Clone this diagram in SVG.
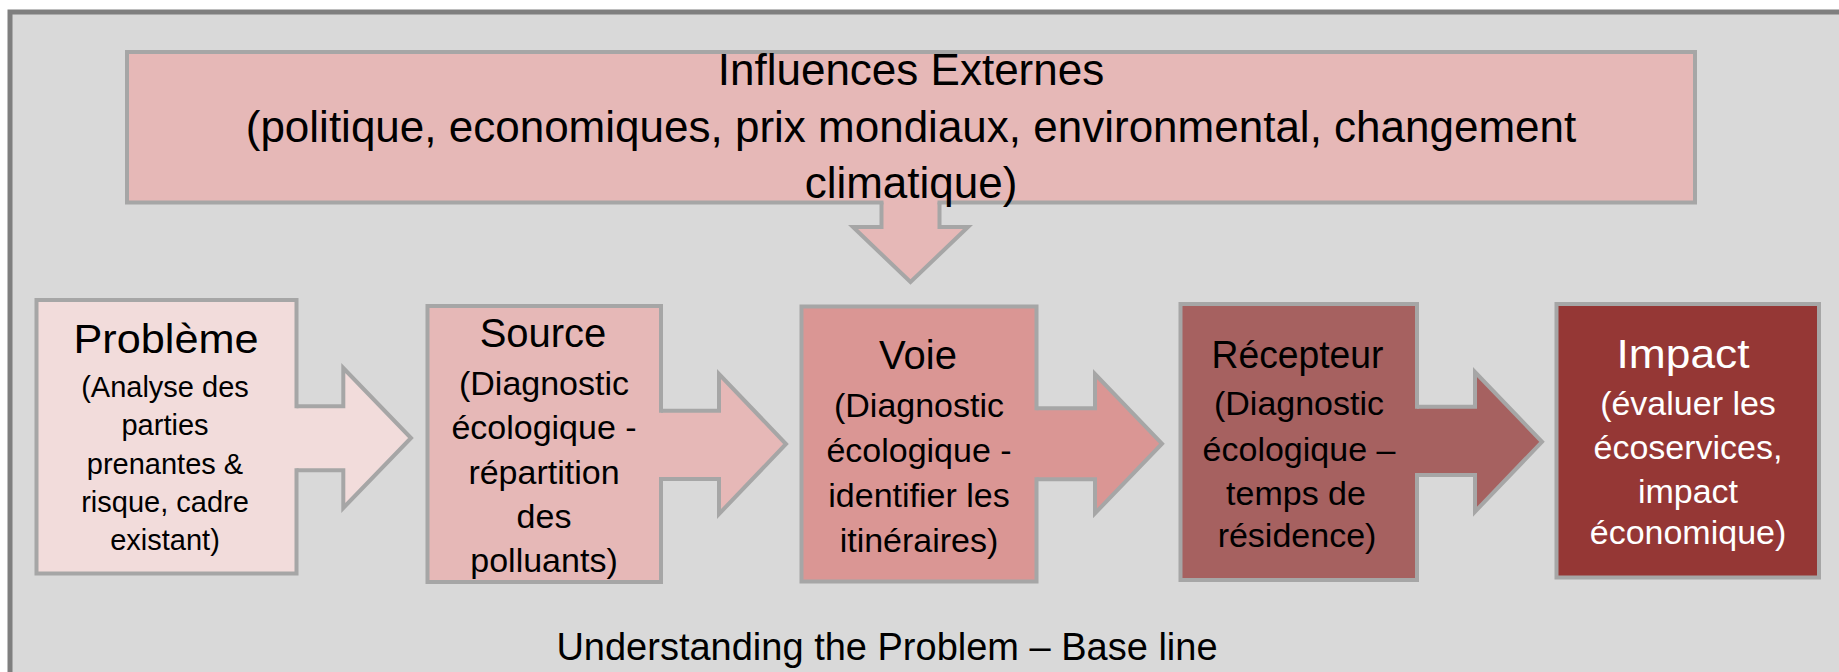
<svg xmlns="http://www.w3.org/2000/svg" width="1839" height="672" viewBox="0 0 1839 672">
<style>
text{font-family:"Liberation Sans",Arial,sans-serif;text-anchor:middle;fill:#000}
.bd{fill:none;stroke:#a6a6a6;stroke-width:4;stroke-linejoin:miter;stroke-linecap:square}
.ttl{font-size:40px}
.sub{font-size:34px}
.top{font-size:44px}
.wh{fill:#fff}
</style>
<rect x="0" y="0" width="1839" height="672" fill="#fff"/>
<rect x="10" y="12" width="1840" height="680" fill="#d9d9d9" stroke="#7f7f7f" stroke-width="5"/>

<g id="connectors">
  <g id="arrow-influences-voie">
    <polygon points="881.5,190 939.5,190 939.5,227 968,227 910.5,282 853,227 881.5,227" fill="#e6b8b7"/>
    <polyline class="bd" points="881.5,202.5 881.5,227 853,227 910.5,282 968,227 939.5,227 939.5,202.5"/>
  </g>
  <g id="arrow-probleme-source">
    <polygon points="286,406.3 343.3,406.3 343.3,368 411,438 343.3,508 343.3,470.3 286,470.3" fill="#f2dcdb"/>
    <polyline class="bd" points="296.5,406.3 343.3,406.3 343.3,368 411,438 343.3,508 343.3,470.3 296.5,470.3"/>
  </g>
  <g id="arrow-source-voie">
    <polygon points="650,410.8 719,410.8 719,374 786,444 719,514 719,479 650,479" fill="#e6b8b7"/>
    <polyline class="bd" points="661,410.8 719,410.8 719,374 786,444 719,514 719,479 661,479"/>
  </g>
  <g id="arrow-voie-recepteur">
    <polygon points="1026,408.3 1095,408.3 1095,374 1162,443.7 1095,513.3 1095,479.3 1026,479.3" fill="#da9694"/>
    <polyline class="bd" points="1036.5,408.3 1095,408.3 1095,374 1162,443.7 1095,513.3 1095,479.3 1036.5,479.3"/>
  </g>
  <g id="arrow-recepteur-impact">
    <polygon points="1406,406.7 1475,406.7 1475,372 1542,441.8 1475,511.7 1475,475 1406,475" fill="#a66160"/>
    <polyline class="bd" points="1417,406.7 1475,406.7 1475,372 1542,441.8 1475,511.7 1475,475 1417,475"/>
  </g>
</g>

<g id="influences">
  <rect x="127" y="52" width="1568" height="150.5" fill="#e6b8b7"/>
  <path class="bd" d="M881.5,202.5 H127 V52 H1695 V202.5 H939.5"/>
  <text class="top" x="911" y="85">Influences Externes</text>
  <text class="top" x="911" y="141.5">(politique, economiques, prix mondiaux, environmental, changement</text>
  <text class="top" x="911" y="198">climatique)</text>
</g>

<g id="probleme">
  <rect x="36.5" y="300" width="260" height="273.5" fill="#f2dcdb"/>
  <path class="bd" d="M296.5,406.3 V300 H36.5 V573.5 H296.5 V470.3"/>
  <text x="166" y="353" font-size="41" textLength="185" lengthAdjust="spacingAndGlyphs">Problème</text>
  <g font-size="29">
    <text x="165" y="397">(Analyse des</text>
    <text x="165" y="435.3">parties</text>
    <text x="165" y="473.6">prenantes &amp;</text>
    <text x="165" y="512">risque, cadre</text>
    <text x="165" y="550">existant)</text>
  </g>
</g>

<g id="source">
  <rect x="427.5" y="306" width="233.5" height="276" fill="#e6b8b7"/>
  <path class="bd" d="M661,410.8 V306 H427.5 V582 H661 V479"/>
  <text class="ttl" x="543" y="347">Source</text>
  <text class="sub" x="544" y="395">(Diagnostic</text>
  <text class="sub" x="544" y="439">écologique -</text>
  <text class="sub" x="544" y="483.5">répartition</text>
  <text class="sub" x="544" y="528">des</text>
  <text class="sub" x="544" y="572">polluants)</text>
</g>

<g id="voie">
  <rect x="801.5" y="306.5" width="235" height="275" fill="#da9694"/>
  <path class="bd" d="M1036.5,408.3 V306.5 H801.5 V581.5 H1036.5 V479.3"/>
  <text class="ttl" x="918" y="369">Voie</text>
  <text class="sub" x="919" y="416.7">(Diagnostic</text>
  <text class="sub" x="919" y="461.7">écologique -</text>
  <text class="sub" x="919" y="506.7">identifier les</text>
  <text class="sub" x="919" y="551.7">itinéraires)</text>
</g>

<g id="recepteur">
  <rect x="1180.5" y="304" width="236.5" height="276" fill="#a66160"/>
  <path class="bd" d="M1417,406.7 V304 H1180.5 V580 H1417 V475"/>
  <text x="1297.5" y="367.7" font-size="38" textLength="172" lengthAdjust="spacingAndGlyphs">Récepteur</text>
  <text class="sub" x="1299" y="415">(Diagnostic</text>
  <text class="sub" x="1299" y="460.5">écologique –</text>
  <text class="sub" x="1296" y="505">temps de</text>
  <text class="sub" x="1297" y="547">résidence)</text>
</g>

<g id="impact">
  <rect x="1556.5" y="304" width="262.5" height="273.5" fill="#953735" stroke="#a6a6a6" stroke-width="4"/>
  <text class="wh" x="1683" y="368.3" font-size="41" textLength="133" lengthAdjust="spacingAndGlyphs">Impact</text>
  <text class="sub wh" x="1688" y="415">(évaluer les</text>
  <text class="sub wh" x="1688" y="458.5">écoservices,</text>
  <text class="sub wh" x="1688" y="503">impact</text>
  <text class="sub wh" x="1688" y="543.5">économique)</text>
</g>

<g id="caption">
  <text x="887" y="660" font-size="38">Understanding the Problem – Base line</text>
</g>
</svg>
